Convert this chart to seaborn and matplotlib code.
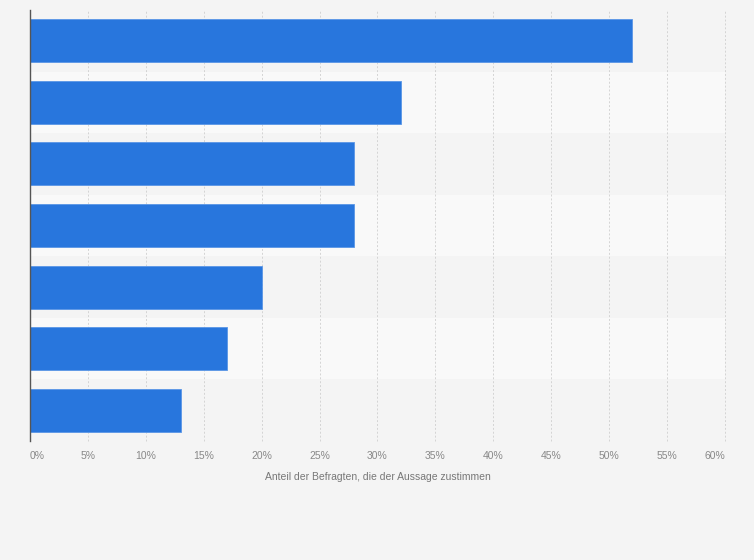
import numpy as np
import pandas as pd
from matplotlib import pyplot as plt
import seaborn as sns

# Werte (Kategorien sind im Bild nicht beschriftet)
statements = ['A1', 'A2', 'A3', 'A4', 'A5', 'A6', 'A7']
shares = [52, 32, 28, 28, 20, 17, 13]
ticks = list(range(0, 65, 5))
tick_labels = [f'{t}%' for t in ticks]
x_title = 'Anteil der Befragten, die der Aussage zustimmen'

df = pd.DataFrame({'statement': statements, 'share': shares})

sns.set_theme(style='white')
plt.rcParams['font.family'] = ['Liberation Sans', 'DejaVu Sans']

fig = plt.figure(figsize=(7.54, 5.6), dpi=100)
fig.patch.set_facecolor('#f4f4f4')
ax = fig.add_axes([30 / 754, 1 - 441 / 560, 695 / 754, 431 / 560])
ax.set_facecolor('#f4f4f4')

# abwechselnde Zeilenstreifen
for i in range(len(statements)):
    if i % 2 == 1:
        ax.axhspan(i - 0.5, i + 0.5, color='#f9f9f9', zorder=0, lw=0)

sns.barplot(data=df, x='share', y='statement', orient='h', color='#2876dd',
            saturation=1, width=0.7, edgecolor='#5a96e6', linewidth=0.6,
            ax=ax, zorder=3)

ax.set_xlim(0, 60)
ax.set_ylim(len(statements) - 0.5, -0.5)
ax.set_xticks(ticks)
ax.set_xticklabels(tick_labels, fontsize=7.5, color='#888888')
labels = ax.get_xticklabels()
labels[0].set_ha('left')
labels[-1].set_ha('right')
ax.tick_params(axis='x', length=0, pad=7)
ax.set_yticks([])
ax.set_ylabel('')
ax.set_xlabel(x_title, fontsize=7.5, color='#777777', labelpad=8)

for t in ticks[1:]:
    ax.axvline(t, color='#d4d4d4', lw=0.7, ls=(0, (2, 2)), zorder=1, clip_on=False)

for side in ['top', 'right', 'bottom']:
    ax.spines[side].set_visible(False)
ax.spines['left'].set_color('#555555')
ax.spines['left'].set_linewidth(1.0)
ax.spines['left'].set_zorder(5)

fig.savefig('out.png', dpi=100, facecolor=fig.get_facecolor())
